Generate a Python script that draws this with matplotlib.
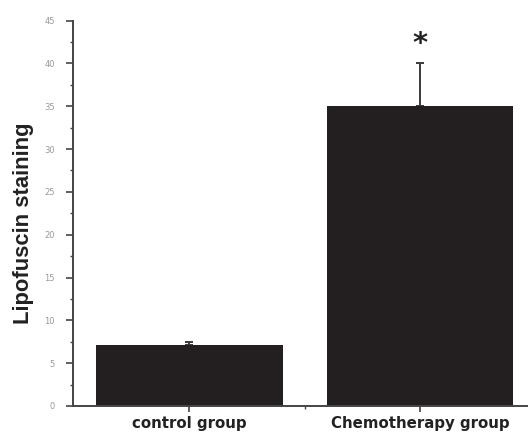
import matplotlib
matplotlib.use("Agg")
import matplotlib.pyplot as plt
from matplotlib.ticker import MultipleLocator, FixedLocator

categories = ["control group", "Chemotherapy group"]
means = [7.1, 35.0]
errors = [0.35, 5.1]
yticks = [0, 5, 10, 15, 20, 25, 30, 35, 40, 45]
sig_labels = ["", "*"]
sig_y = [None, 42.3]

fig = plt.figure(figsize=(5.28, 4.33), dpi=100)
ax = fig.add_axes([0.1377, 0.0624, 0.8623, 0.890])

x = list(range(len(categories)))
ax.bar(x, means, width=0.81, color="#231f20", zorder=2)
ax.errorbar(x, means, yerr=[[0] * len(errors), errors], fmt="none",
            ecolor="#3a3a3a", elinewidth=1.4, capsize=3, capthick=1.4, zorder=1)

for xi, lab, yy in zip(x, sig_labels, sig_y):
    if lab:
        ax.text(xi, yy, lab, ha="center", va="center", fontsize=21,
                fontweight="bold", color="#222222", family="DejaVu Sans")

ax.set_xlim(-0.506, 1.468)
ax.set_ylim(0, 45)
ax.set_yticks(yticks)
ax.yaxis.set_minor_locator(MultipleLocator(2.5))
ax.set_xticks(x)
ax.set_xticklabels(categories, fontsize=10.8, fontweight="bold", color="#222222",
                   family="DejaVu Sans")
ax.xaxis.set_minor_locator(FixedLocator([0.5]))

for s in ["top", "right"]:
    ax.spines[s].set_visible(False)
for s in ["left", "bottom"]:
    ax.spines[s].set_color("#444444")
    ax.spines[s].set_linewidth(1.4)

ax.tick_params(axis="y", which="major", length=5, width=1.2, color="#444444",
               labelsize=6, labelcolor="#999999", pad=8)
ax.tick_params(axis="y", which="minor", length=2.5, width=1.0, color="#444444")
ax.tick_params(axis="x", which="major", length=4.5, width=1.2, color="#444444", pad=3)
ax.tick_params(axis="x", which="minor", length=2.5, width=1.0, color="#444444")

fig.text(0.045, 0.485, "Lipofuscin staining", rotation=90, ha="center", va="center",
         fontsize=15.8, fontweight="bold", family="Liberation Sans", color="#222222")

fig.savefig("out.png", dpi=100)
